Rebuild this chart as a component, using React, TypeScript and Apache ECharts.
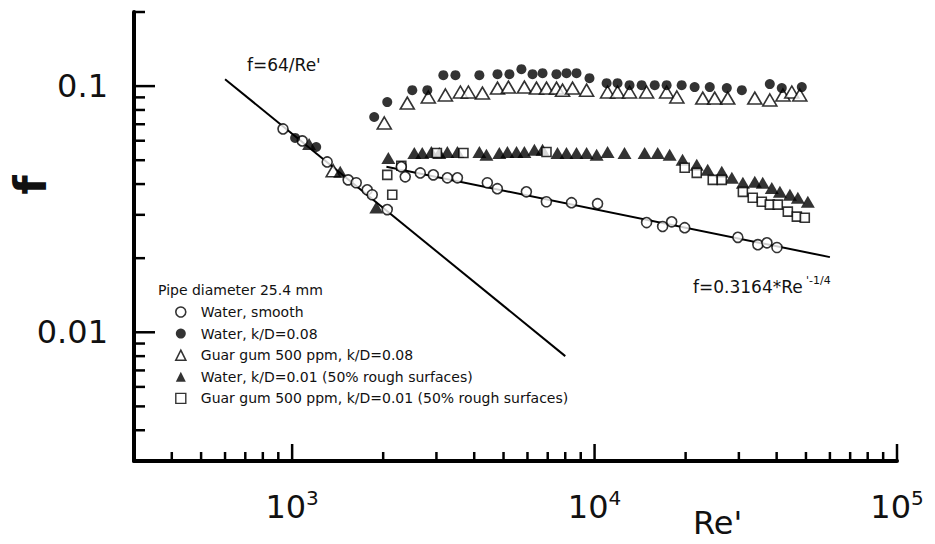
import React, { useEffect, useRef } from 'react';
import * as echarts from 'echarts';

const X_MIN = 300;
const X_MAX = 100000;
const Y_MIN = 0.003;
const Y_MAX = 0.2;

const xLabelValues = [1000, 10000, 100000];
const xLabelExponents = ['3', '4', '5'];
const yLabelValues = [0.01, 0.1];
const yLabelTexts = ['0.01', '0.1'];

const xMajorTicks = [1000, 10000, 100000];
const xMinorTicks = [300, 400, 500, 600, 700, 800, 900, 2000, 3000, 4000, 5000, 6000, 7000, 8000, 9000,
  20000, 30000, 40000, 50000, 60000, 70000, 80000, 90000];
const yMajorTicks = [0.01, 0.1];
const yMinorTicks = [0.004, 0.005, 0.006, 0.007, 0.008, 0.009, 0.02, 0.03, 0.04, 0.05, 0.06, 0.07, 0.08, 0.09, 0.2];

const seriesNames = [
  'Water, smooth',
  'Water, k/D=0.08',
  'Guar gum 500 ppm, k/D=0.08',
  'Water, k/D=0.01 (50% rough surfaces)',
  'Guar gum 500 ppm, k/D=0.01 (50% rough surfaces)',
];

const waterSmooth = [[933, 0.0670], [1080, 0.0599], [1306, 0.0492], [1532, 0.0416], [1629, 0.0405], [1771, 0.0379],
  [1840, 0.0362], [2063, 0.0315], [2296, 0.0470], [2366, 0.0428], [2653, 0.0444], [2930, 0.0436], [3260, 0.0424],
  [3520, 0.0424], [4420, 0.0405], [4770, 0.0383], [5950, 0.0372], [6930, 0.0339], [8390, 0.0336], [10230, 0.0333],
  [14860, 0.0279], [16790, 0.0269], [17990, 0.0281], [19860, 0.0266], [29770, 0.0243], [34670, 0.0227],
  [37150, 0.0231], [40090, 0.0221]];

const waterRough08 = [[1023, 0.0616], [1201, 0.0566], [1868, 0.0749], [2063, 0.0861], [2496, 0.0963], [2799, 0.0963],
  [3162, 0.1108], [3467, 0.1108], [4160, 0.1108], [4775, 0.1118], [5230, 0.1118], [5730, 0.1172], [6235, 0.1118],
  [6730, 0.1129], [7480, 0.1118], [8075, 0.1129], [8715, 0.1129], [9620, 0.1077], [10960, 0.1028], [11910, 0.1028],
  [13050, 0.1009], [14310, 0.1009], [15810, 0.1009], [17310, 0.1009], [19410, 0.1009], [21420, 0.0991],
  [24040, 0.0991], [27370, 0.0982], [30690, 0.0963], [37970, 0.1019], [41590, 0.0982], [48440, 0.0991]];

const guarGum08 = [[1367, 0.0453], [2017, 0.0708], [2403, 0.0853], [2820, 0.0903], [3212, 0.0920], [3600, 0.0946],
  [3826, 0.0946], [4258, 0.0937], [4775, 0.0982], [5190, 0.0991], [5860, 0.0991], [6425, 0.0982], [6935, 0.0982],
  [7485, 0.0982], [7835, 0.0963], [8455, 0.0982], [9410, 0.0963], [11040, 0.0946], [11910, 0.0946], [13050, 0.0946],
  [14860, 0.0946], [17310, 0.0946], [18710, 0.0903], [22790, 0.0894], [24960, 0.0894], [27560, 0.0894],
  [33870, 0.0894], [37970, 0.0878], [41970, 0.0920], [44890, 0.0946], [47710, 0.0920]];

const waterRough01 = [[1138, 0.0582], [1442, 0.0449], [1898, 0.0321], [2080, 0.0511], [2535, 0.0535], [2693, 0.0535],
  [2886, 0.0540], [3066, 0.0535], [3260, 0.0540], [3520, 0.0540], [4160, 0.0540], [4390, 0.0526], [4843, 0.0535],
  [5150, 0.0540], [5520, 0.0540], [5860, 0.0540], [6325, 0.0551], [6730, 0.0551], [7540, 0.0535], [8075, 0.0535],
  [8715, 0.0535], [9410, 0.0535], [10160, 0.0526], [11040, 0.0540], [12560, 0.0535], [14640, 0.0535],
  [16170, 0.0535], [17710, 0.0526], [19540, 0.0502], [21770, 0.0479], [23660, 0.0457], [26340, 0.0449],
  [28440, 0.0424], [30930, 0.0405], [33870, 0.0409], [35980, 0.0405], [38550, 0.0386], [41000, 0.0372],
  [44250, 0.0362], [47010, 0.0352], [50720, 0.0339]];

const guarGum01 = [[2063, 0.0436], [2143, 0.0362], [2296, 0.0475], [3010, 0.0535], [3685, 0.0535], [6935, 0.0540],
  [19860, 0.0466], [21770, 0.0444], [24590, 0.0416], [26340, 0.0416], [30930, 0.0372], [33340, 0.0352],
  [35720, 0.0339], [37970, 0.0330], [40340, 0.0330], [43550, 0.0309], [46650, 0.0295], [49550, 0.0292]];

const laminarLine = [[600, 0.1067], [8000, 0.0080]];
const blasiusLine = [[2050, 0.0470], [60000, 0.0202]];

const INK = '#111';
const FONT = 'DejaVu Sans';

export default function App() {
  const ref = useRef<HTMLDivElement>(null);
  useEffect(() => {
    const chart = echarts.init(ref.current!, null, { renderer: 'svg' });
    const tickData = [
      ...xMinorTicks.map((v) => [v, Y_MIN, 0]),
      ...xMajorTicks.map((v) => [v, Y_MIN, 1]),
      ...yMinorTicks.map((v) => [X_MIN, v, 2]),
      ...yMajorTicks.map((v) => [X_MIN, v, 3]),
    ];
    const tickLens = [9, 17, 11, 21];
    const near = (a: number, b: number) => Math.abs(Math.log10(a) - Math.log10(b)) < 1e-6;

    const openStyle = { color: '#fff', borderColor: '#000', borderWidth: 1.6 };
    const fillStyle = { color: '#000', borderColor: '#000', borderWidth: 0 };

    chart.setOption({
      animation: false,
      backgroundColor: '#fff',
      grid: { left: 134, right: 38, top: 12, bottom: 83 },
      xAxis: {
        type: 'log',
        logBase: 10,
        min: X_MIN,
        max: X_MAX,
        axisLine: { show: true, onZero: false, lineStyle: { color: '#000', width: 4 } },
        axisTick: { show: false },
        splitLine: { show: false },
        minorTick: { show: false },
        axisLabel: {
          margin: 27,
          formatter: (v: number) => {
            const i = xLabelValues.findIndex((t) => near(t, v));
            return i >= 0 ? `{b|10}{s|${xLabelExponents[i]}}` : '';
          },
          rich: {
            b: { fontSize: 32, fontFamily: FONT, color: INK, lineHeight: 34 },
            s: { fontSize: 20, fontFamily: FONT, color: INK, padding: [0, 0, 17, 0] },
          },
        },
      },
      yAxis: {
        type: 'log',
        logBase: 10,
        min: Y_MIN,
        max: Y_MAX,
        axisLine: { show: true, onZero: false, lineStyle: { color: '#000', width: 4 } },
        axisTick: { show: false },
        splitLine: { show: false },
        minorTick: { show: false },
        axisLabel: {
          margin: 26,
          fontSize: 32,
          fontFamily: FONT,
          color: INK,
          formatter: (v: number) => {
            const i = yLabelValues.findIndex((t) => near(t, v));
            return i >= 0 ? yLabelTexts[i] : '';
          },
        },
      },
      legend: {
        orient: 'vertical',
        left: 175,
        top: 305,
        padding: 0,
        itemWidth: 10,
        itemHeight: 10,
        itemGap: 7.6,
        textStyle: { fontFamily: FONT, fontSize: 14, color: INK, lineHeight: 14, padding: [0, 0, 0, 10] },
        data: [
          { name: seriesNames[0], icon: 'circle', itemStyle: openStyle },
          { name: seriesNames[1], icon: 'circle', itemStyle: fillStyle },
          { name: seriesNames[2], icon: 'triangle', itemStyle: openStyle },
          { name: seriesNames[3], icon: 'triangle', itemStyle: fillStyle },
          { name: seriesNames[4], icon: 'rect', itemStyle: { ...openStyle, borderWidth: 1.4 } },
        ],
      },
      graphic: [
        { type: 'text', left: 158, top: 283, style: { text: 'Pipe diameter 25.4 mm', font: `14px "${FONT}"`, fill: INK } },
        { type: 'text', x: 30, y: 185, rotation: Math.PI / 2,
          style: { text: 'f', font: `bold 44px "${FONT}"`, fill: INK, align: 'center', verticalAlign: 'middle' } },
        { type: 'text', x: 693, y: 523,
          style: { text: "Re'", font: `32px "${FONT}"`, fill: INK, align: 'left', verticalAlign: 'middle' } },
        { type: 'text', x: 247, y: 65,
          style: { text: "f=64/Re'", font: `17px "${FONT}"`, fill: INK, align: 'left', verticalAlign: 'middle' } },
        { type: 'text', x: 693, y: 287,
          style: { text: 'f=0.3164*Re', font: `17px "${FONT}"`, fill: INK, align: 'left', verticalAlign: 'middle' } },
        { type: 'text', x: 806, y: 280,
          style: { text: "'-1/4", font: `11px "${FONT}"`, fill: INK, align: 'left', verticalAlign: 'middle' } },
      ],
      series: [
        {
          type: 'line', data: laminarLine, symbol: 'none', silent: true,
          lineStyle: { color: '#000', width: 2 }, z: 1,
        },
        {
          type: 'line', data: blasiusLine, symbol: 'none', silent: true,
          lineStyle: { color: '#000', width: 2 }, z: 1,
        },
        {
          name: seriesNames[2], type: 'scatter', data: guarGum08, symbol: 'triangle', symbolSize: [14, 12],
          itemStyle: openStyle, z: 2,
        },
        {
          name: seriesNames[3], type: 'scatter', data: waterRough01, symbol: 'triangle', symbolSize: [14, 12],
          itemStyle: fillStyle, z: 2,
        },
        {
          name: seriesNames[4], type: 'scatter', data: guarGum01, symbol: 'rect', symbolSize: 9,
          itemStyle: openStyle, z: 3,
        },
        {
          name: seriesNames[0], type: 'scatter', data: waterSmooth, symbol: 'circle', symbolSize: 10,
          itemStyle: openStyle, z: 3,
        },
        {
          name: seriesNames[1], type: 'scatter', data: waterRough08, symbol: 'circle', symbolSize: 10,
          itemStyle: fillStyle, z: 3,
        },
        {
          type: 'custom',
          data: tickData,
          silent: true,
          clip: false,
          z: 5,
          encode: { x: 0, y: 1 },
          renderItem: (params: any, api: any) => {
            const kind = api.value(2);
            const p = api.coord([api.value(0), api.value(1)]);
            const L = tickLens[kind];
            const shape = kind >= 2
              ? { x1: p[0], y1: p[1], x2: p[0] + L, y2: p[1] }
              : { x1: p[0], y1: p[1], x2: p[0], y2: p[1] - L };
            return { type: 'line', shape, style: { stroke: '#000', lineWidth: 2.5 } };
          },
        },
      ],
    });
    return () => chart.dispose();
  }, []);
  return (
    <div
      ref={ref}
      style={{ position: 'absolute', left: 0, top: 0, width: 935, height: 544, background: '#fff' }}
    />
  );
}
